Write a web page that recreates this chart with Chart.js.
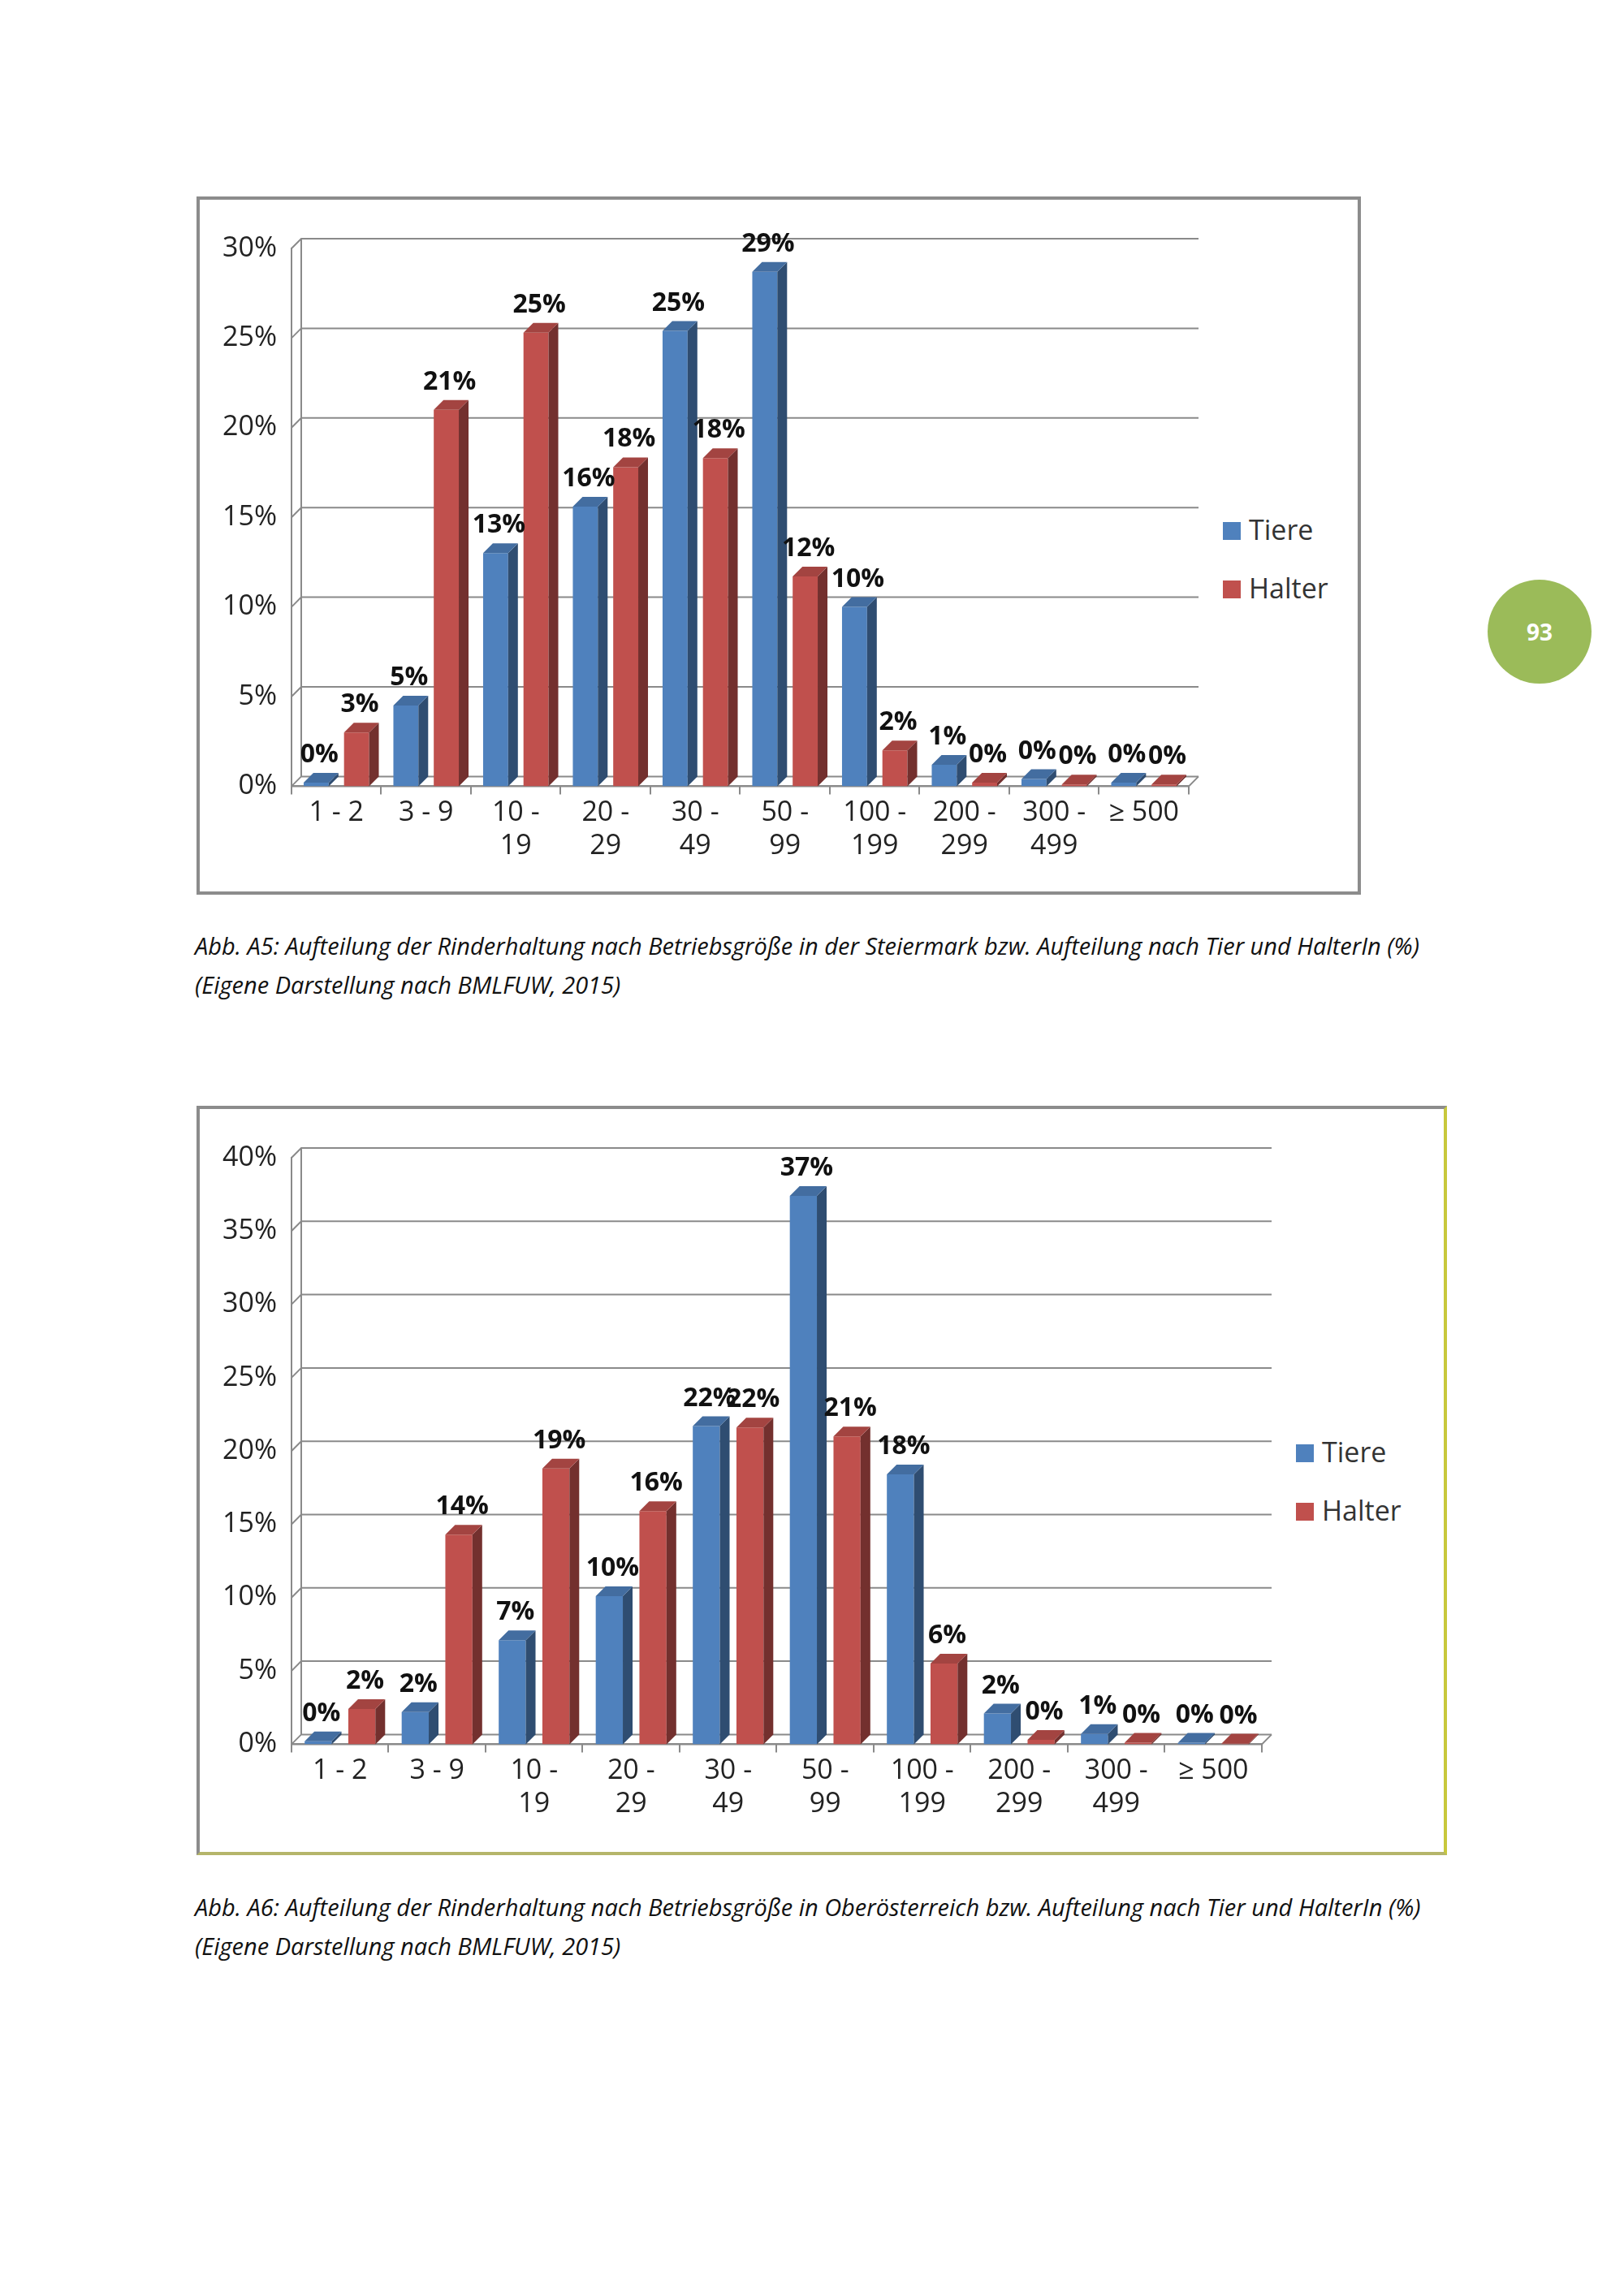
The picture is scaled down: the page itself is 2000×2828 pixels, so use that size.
<!DOCTYPE html>
<html><head><meta charset="utf-8">
<script src="https://cdn.jsdelivr.net/npm/chart.js@4/dist/chart.umd.min.js"></script>
<style>
body{margin:0;width:2000px;height:2828px;background:#fff;position:relative;font-family:"Open Sans",sans-serif}
.box{position:absolute;border:4px solid #8c8c8c;background:#fff;box-sizing:border-box}
.legend{position:absolute;font-size:34px;color:#333;line-height:72px}
.legend span{display:inline-block;width:22px;height:22px;margin-right:10px}
.cap{position:absolute;left:240px;font-style:italic;font-size:29px;line-height:48px;color:#111;width:1560px}
.num{position:absolute;left:1832px;top:714px;width:128px;height:128px;border-radius:50%;background:#9bbb59;color:#fff;font-weight:bold;font-size:28px;text-align:center;line-height:128px}
</style></head><body>
<div class="box" style="left:242px;top:242px;width:1434px;height:860px">
  <div style="position:absolute;left:20px;top:20px;width:1220px;height:800px"><canvas id="c1"></canvas></div>
  <div class="legend" style="left:1260px;top:370px"><div><span style="background:#4f81bd"></span>Tiere</div><div><span style="background:#c0504d"></span>Halter</div></div>
</div>
<div class="cap" style="top:1141px">Abb. A5: Aufteilung der Rinderhaltung nach Betriebsgröße in der Steiermark bzw. Aufteilung nach Tier und HalterIn (%) (Eigene Darstellung nach BMLFUW, 2015)</div>
<div class="num">93</div>
<div class="box" style="left:242px;top:1362px;width:1540px;height:923px;border-right-color:#c8c83c;border-bottom-color:#b5b56a">
  <div style="position:absolute;left:20px;top:20px;width:1310px;height:860px"><canvas id="c2"></canvas></div>
  <div class="legend" style="left:1350px;top:386px"><div><span style="background:#4f81bd"></span>Tiere</div><div><span style="background:#c0504d"></span>Halter</div></div>
</div>
<div class="cap" style="top:2325px">Abb. A6: Aufteilung der Rinderhaltung nach Betriebsgröße in Oberösterreich bzw. Aufteilung nach Tier und HalterIn (%) (Eigene Darstellung nach BMLFUW, 2015)</div>
<script>
// ── DATA ─────────────────────────────────────────────
const labels = ['1 - 2','3 - 9',['10 -','19'],['20 -','29'],['30 -','49'],['50 -','99'],['100 -','199'],['200 -','299'],['300 -','499'],'≥ 500'];
const steiermark = {
    tiere:[0.2,4.5,13,15.6,25.4,28.7,10,1.2,0.4,0.2],
    halter:[3,21,25.3,17.8,18.3,11.7,2,0.2,0.1,0.1],
    max:30
};
const ooe = {
    tiere:[0.2,2.2,7.1,10.1,21.7,37.4,18.4,2.1,0.7,0.1],
    halter:[2.4,14.3,18.8,15.9,21.6,21,5.5,0.3,0.1,0.05],
    max:40
};

// ── 3D BARS + LABELS ─────────────────────────────────
const D = 12;
const shade = (hex,f)=>{const n=parseInt(hex.slice(1),16);const r=(n>>16)*f,g=((n>>8)&255)*f,b=(n&255)*f;return `rgb(${r|0},${g|0},${b|0})`;};
const bar3d = {
    id:'bar3d',
    beforeDatasetsDraw(chart){
        const {ctx,chartArea:a,scales:{y}}=chart;
        ctx.save();
        ctx.strokeStyle='#8a8a8a';ctx.lineWidth=2;
        y.ticks.forEach(t=>{const py=y.getPixelForValue(t.value);
            ctx.beginPath();ctx.moveTo(a.left,py);ctx.lineTo(a.left+D,py-D);ctx.lineTo(a.right+D,py-D);ctx.stroke();});
        ctx.beginPath();ctx.moveTo(a.left+D,a.top-D);ctx.lineTo(a.left+D,a.bottom-D);ctx.stroke();
        // floor
        ctx.beginPath();ctx.moveTo(a.left,a.bottom);ctx.lineTo(a.right,a.bottom);ctx.lineTo(a.right+D,a.bottom-D);ctx.stroke();
        ctx.restore();
    },
    afterDatasetsDraw(chart){
        const ctx=chart.ctx;
        ctx.save();
        chart.data.datasets.forEach((ds,di)=>{
            chart.getDatasetMeta(di).data.forEach((b,i)=>{
                const w=b.width/2, x0=b.x-w, x1=b.x+w, top=b.y, bot=b.base;
                ctx.fillStyle=shade(ds.backgroundColor,0.6);
                ctx.beginPath();ctx.moveTo(x1,bot);ctx.lineTo(x1+D,bot-D);ctx.lineTo(x1+D,top-D);ctx.lineTo(x1,top);ctx.fill();
                ctx.fillStyle=shade(ds.backgroundColor,1.15>1?1:1);
                ctx.fillStyle=shade(ds.backgroundColor,0.85);
                ctx.beginPath();ctx.moveTo(x0,top);ctx.lineTo(x0+D,top-D);ctx.lineTo(x1+D,top-D);ctx.lineTo(x1,top);ctx.fill();
                ctx.fillStyle='#111';ctx.font='bold 32px "Open Sans"';ctx.textAlign='center';ctx.textBaseline='bottom';
                ctx.fillText(Math.round(ds.data[i])+'%',b.x+4,top-D-6);
            });
        });
        ctx.restore();
    }
};

function makeChart(id,s){
    return new Chart(document.getElementById(id),{
        type:'bar',
        data:{labels,datasets:[
            {label:'Tiere',data:s.tiere,backgroundColor:'#4f81bd',barPercentage:0.62,categoryPercentage:0.9},
            {label:'Halter',data:s.halter,backgroundColor:'#c0504d',barPercentage:0.62,categoryPercentage:0.9}
        ]},
        options:{responsive:true,maintainAspectRatio:false,animation:false,
            layout:{padding:{top:40,right:D+10}},
            plugins:{legend:{display:false},tooltip:{enabled:false}},
            scales:{
                x:{grid:{display:true,drawOnChartArea:false,color:'#8a8a8a',lineWidth:2,tickLength:10},border:{color:'#8a8a8a',width:2},
                   ticks:{color:'#222',font:{size:34,family:'"Open Sans"'},maxRotation:0,autoSkip:false}},
                y:{min:0,max:s.max,grid:{display:false,drawTicks:true,tickLength:10},border:{color:'#8a8a8a',width:2},
                   ticks:{stepSize:5,color:'#222',font:{size:34,family:'"Open Sans"'},callback:v=>v+'%',padding:8}}
            }
        },
        plugins:[bar3d]
    });
}
makeChart('c1',steiermark);
makeChart('c2',ooe);
</script>
</body></html>
